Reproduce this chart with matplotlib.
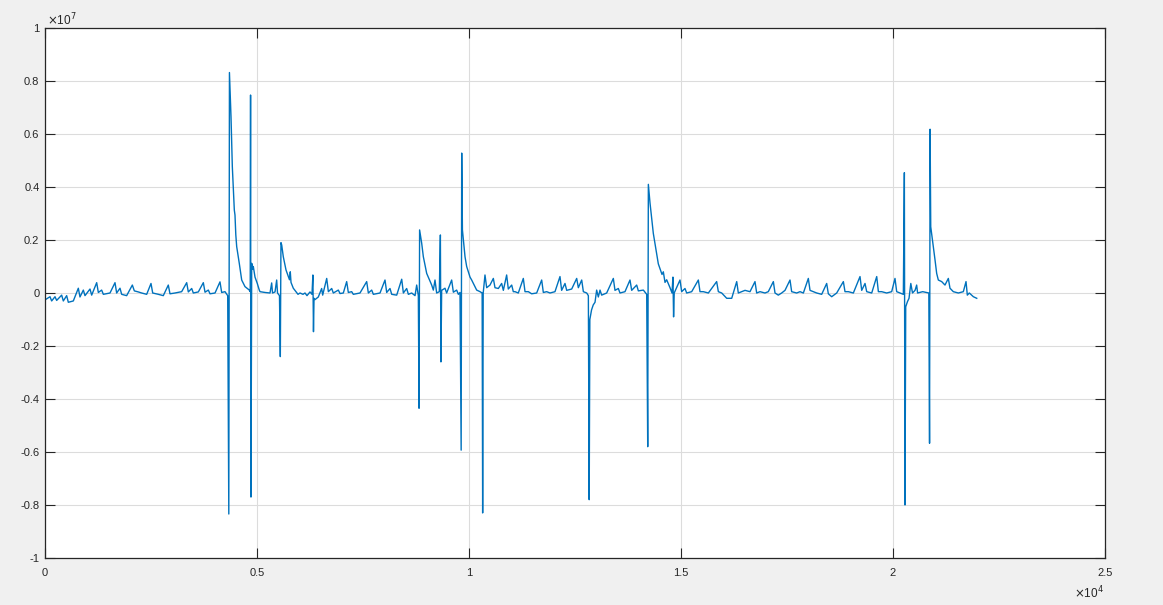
import matplotlib
matplotlib.use('Agg')
import matplotlib.pyplot as plt
from matplotlib.ticker import FuncFormatter, MultipleLocator

# trace: sample index and amplitude in units of 1e7
trace_x = [
    0, 118, 157, 236, 275, 393, 432, 511, 550, 668, 786, 825, 904, 943, 1061, 1101,
    1219, 1258, 1336, 1376, 1533, 1651, 1690, 1769, 1808, 1926, 2060, 2107, 2201, 2280,
    2398, 2500, 2540, 2673, 2790, 2908, 2948, 3066, 3223, 3342, 3380, 3460, 3498, 3616,
    3734, 3774, 3852, 3892, 4010, 4127, 4167, 4245, 4309,
    4335, 4350, 4387, 4418, 4465, 4481, 4500, 4521, 4582, 4639, 4717, 4819,
    4840, 4848, 4858, 4875, 4900, 4913, 4953, 5007, 5054, 5071, 5189, 5307, 5346, 5366,
    5425, 5464, 5484, 5530,
    5550, 5565, 5583, 5620, 5684, 5738, 5766, 5785, 5802, 5856, 5920, 5967, 6014, 6085,
    6132, 6179, 6250, 6297,
    6318, 6332, 6345, 6368, 6446, 6525, 6549, 6644, 6683, 6762, 6800, 6918, 6958, 7036,
    7115, 7154, 7233, 7272, 7429, 7587, 7626, 7705, 7744, 7901, 8019, 8059, 8137, 8177,
    8295, 8413, 8452, 8530, 8570, 8648, 8727, 8766, 8805,
    8822, 8835, 8884, 8923, 9002, 9120, 9159, 9198, 9237, 9300,
    9325, 9338, 9355, 9434, 9473, 9591, 9631, 9709, 9749, 9788,
    9815, 9828, 9845, 9906, 9945, 9985, 10024, 10063, 10142, 10181, 10260,
    10310, 10322, 10335, 10377, 10417, 10495, 10574, 10613, 10692, 10770, 10810, 10888,
    10927, 11007, 11045, 11085, 11163, 11281, 11321, 11399, 11478, 11596, 11714, 11753,
    11832, 11910, 12028, 12146, 12185, 12264, 12304, 12422, 12540, 12579, 12658, 12697,
    12776, 12815,
    12835, 12850, 12890, 12930, 12972, 13011, 13050, 13090, 13129, 13247, 13404, 13443,
    13522, 13561, 13679, 13797, 13837, 13955, 13994, 14112, 14191,
    14215, 14230, 14269, 14347, 14465, 14552, 14583, 14623, 14662, 14741, 14788,
    14810, 14825, 14840, 14976, 15016, 15094, 15134, 15252, 15409, 15448, 15527, 15645,
    15841, 15881, 15960, 16078, 16196, 16314, 16352, 16431, 16510, 16627, 16745, 16785,
    16863, 16981, 17059, 17178, 17217, 17295, 17374, 17453, 17571, 17610, 17728, 17807,
    17886, 18003, 18043, 18121, 18200, 18318, 18436, 18475, 18554, 18672, 18829, 18868,
    18947, 19065, 19222, 19262, 19340, 19380, 19498, 19616, 19655, 19733, 19851, 19969,
    20047, 20087, 20165, 20244,
    20268, 20283, 20300, 20340, 20378, 20420, 20460, 20520, 20558, 20580, 20700, 20845,
    20862, 20875, 20890, 20951, 20991, 21030, 21069, 21148, 21226, 21305, 21344, 21423,
    21541, 21659, 21722, 21753, 21800, 21895, 21975,
]
trace_y = [
    -0.026, -0.014, -0.03, -0.014, -0.028, -0.008, -0.03, -0.01, -0.035, -0.03, 0.018, -0.015, 0.011, -0.01, 0.015, -0.008,
    0.039, 0.002, 0.011, -0.005, 0.0, 0.039, 0.0, 0.018, -0.005, -0.01, 0.030, 0.008, 0.004, 0.0,
    -0.005, 0.036, 0.0, -0.005, -0.01, 0.030, -0.003, 0.0, 0.005, 0.039, 0.004, 0.017, 0.0, 0.004,
    0.039, 0.003, 0.011, -0.003, 0.0, 0.042, 0.002, 0.005, -0.01,
    -0.834, 0.832, 0.665, 0.477, 0.313, 0.294, 0.22, 0.175, 0.112, 0.049, 0.024, 0.011,
    0.005, 0.747, -0.77, 0.112, 0.09, 0.10, 0.06, 0.036, 0.011, 0.005, 0.002, 0.0, 0.038, 0.0,
    0.004, 0.049, 0.0, -0.01,
    -0.24, 0.19, 0.181, 0.137, 0.087, 0.062, 0.05, 0.08, 0.04, 0.018, 0.005, -0.005, 0.0, -0.005,
    0.0, -0.01, 0.004, -0.005,
    0.068, -0.146, -0.02, -0.025, -0.015, 0.017, -0.008, 0.055, 0.005, 0.017, 0.0, 0.011, -0.002, 0.0,
    0.043, 0.002, 0.005, -0.005, 0.0, 0.043, 0.0, 0.011, -0.005, 0.0, 0.049, 0.002, 0.017, -0.005,
    -0.008, 0.052, 0.0, 0.017, -0.005, 0.0, -0.01, 0.03, -0.01,
    -0.435, 0.238, 0.188, 0.137, 0.074, 0.030, 0.011, 0.049, 0.0, 0.005,
    0.219, -0.26, 0.01, 0.018, 0.0, 0.049, 0.003, 0.011, -0.005, 0.002,
    -0.593, 0.528, 0.238, 0.137, 0.10, 0.08, 0.06, 0.049, 0.024, 0.011, 0.005,
    0.0, -0.83, 0.0, 0.068, 0.02, 0.03, 0.055, 0.02, 0.017, 0.036, 0.01, 0.068,
    0.015, 0.030, 0.005, 0.005, 0.0, 0.055, 0.005, 0.005, -0.003, 0.0, 0.049, 0.002,
    0.005, 0.0, 0.005, 0.062, 0.01, 0.036, 0.01, 0.015, 0.055, 0.02, 0.049, 0.005,
    0.0, -0.01,
    -0.78, -0.10, -0.064, -0.045, -0.035, 0.011, -0.015, 0.011, -0.008, 0.0, 0.055, 0.01,
    0.017, 0.0, 0.005, 0.049, 0.01, 0.03, 0.008, 0.011, -0.005,
    -0.58, 0.41, 0.34, 0.225, 0.11, 0.07, 0.08, 0.04, 0.05, 0.02, 0.0,
    0.06, -0.09, 0.0, 0.049, 0.005, 0.017, 0.0, 0.005, 0.049, 0.005, 0.005, 0.0,
    0.043, 0.005, 0.0, -0.02, -0.02, 0.043, 0.0, 0.005, 0.01, 0.005, 0.043, 0.0,
    0.005, 0.0, 0.005, 0.043, 0.0, -0.008, 0.0, 0.01, 0.049, 0.005, 0.0, 0.005,
    0.0, 0.055, 0.01, 0.005, 0.0, -0.005, 0.036, -0.003, -0.014, 0.0, 0.043, 0.005,
    0.005, 0.0, 0.062, 0.01, 0.036, 0.005, 0.0, 0.062, 0.005, 0.005, 0.0, 0.005,
    0.055, 0.005, 0.0, -0.005,
    0.454, -0.80, -0.052, -0.033, -0.02, 0.036, 0.0, 0.01, 0.03, 0.0, 0.005, 0.0,
    -0.567, 0.618, 0.25, 0.175, 0.125, 0.074, 0.049, 0.043, 0.03, 0.055, 0.018, 0.005,
    0.0, 0.005, 0.043, -0.008, 0.0, -0.014, -0.02,
]
Y_UNIT = 1e7
X_UNIT = 1e4

plt.rcParams['font.family'] = ['Liberation Sans', 'DejaVu Sans']

fig = plt.figure(figsize=(11.63, 6.05), dpi=100, facecolor='#f0f0f0')
ax = fig.add_axes([45 / 1163, 47 / 605, 1060 / 1163, 530 / 605])
ax.set_facecolor('white')

ax.plot(trace_x, [v * Y_UNIT for v in trace_y], color='#0072bd', lw=1.0)

ax.set_xlim(0, 2.5 * X_UNIT)
ax.set_ylim(-Y_UNIT, Y_UNIT)
ax.xaxis.set_major_locator(MultipleLocator(0.5 * X_UNIT))
ax.yaxis.set_major_locator(MultipleLocator(0.2 * Y_UNIT))
ax.xaxis.set_major_formatter(FuncFormatter(lambda v, p: '%g' % round(v / X_UNIT, 2)))
ax.yaxis.set_major_formatter(FuncFormatter(lambda v, p: '%g' % round(v / Y_UNIT, 2)))

ax.grid(True, color='#dcdcdc', lw=0.8)
ax.set_axisbelow(True)
for s in ax.spines.values():
    s.set_color('#262626')
    s.set_linewidth(0.9)
ax.tick_params(direction='in', length=7.5, width=0.8, colors='#262626',
               labelsize=8, top=True, right=True)
ax.tick_params(axis='x', pad=7)
ax.tick_params(axis='y', pad=4)

fig.text(47 / 1163, 1 - 20 / 605, r'$\times$10$^{7}$', fontsize=8.5, color='#262626',
         va='center', ha='left')
fig.text(1104 / 1163, 1 - 593 / 605, r'$\times$10$^{4}$', fontsize=8.5, color='#262626',
         va='center', ha='right')

fig.savefig('out.png', dpi=100, facecolor=fig.get_facecolor())
